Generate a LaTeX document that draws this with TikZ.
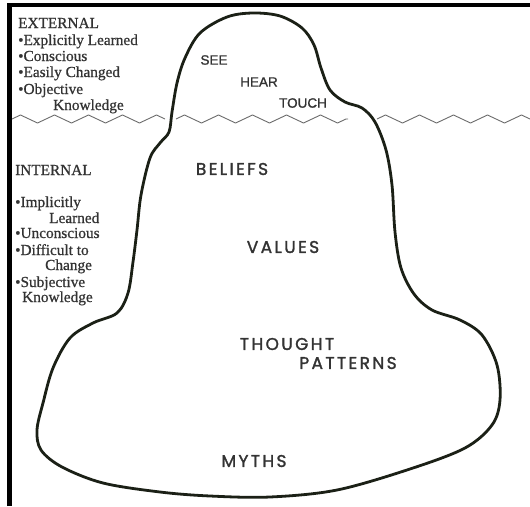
\documentclass[tikz,border=0pt]{standalone}
\usepackage{fontspec}
\setmainfont{Liberation Serif}[FakeBold=0.8]
\newfontfamily\labfont{Poppins}[LetterSpace=14,FakeBold=1.6]
\newfontfamily\smallsans{Liberation Sans}[FakeBold=1.2]
\usetikzlibrary{decorations.pathmorphing}
\definecolor{ink}{HTML}{1B2016}
\definecolor{txt}{HTML}{333333}
\definecolor{wave}{HTML}{6A6A6A}
\tikzset{
  serifline/.style={anchor=base west, inner sep=0pt, text=txt, font=\fontsize{15.3}{16}\selectfont},
  toplab/.style={inner sep=0pt, text=txt, font=\smallsans\fontsize{13.5}{15}\selectfont},
  deeplab/.style={inner sep=0pt, text=txt, font=\labfont\fontsize{17}{19}\selectfont},
  waterline/.style={draw=wave, line width=0.9pt, decorate, decoration={zigzag, segment length=34pt, amplitude=4pt}},
  outline/.style={draw=ink, line width=2.8pt, line join=round},
  frame/.style={draw=black, line width=4.5pt, line join=miter}
}
\begin{document}
\begin{tikzpicture}[x=1pt,y=-1pt]
\useasboundingbox (0,0) rectangle (530,506);
% frame
\draw[frame] (9.5,506) -- (9.5,5) -- (530,5);
% water line
\draw[waterline] (12,119) -- (165,119);
\draw[waterline] (176,119) -- (348,119);
\draw[waterline] (377,119) -- (530,119);
% iceberg
\draw[outline] plot[smooth cycle, tension=0.55] coordinates {
 (253,13) (280,16) (302,28) (314,45) (321,68) (330,90) (345,102) (362,108)
 (375,122) (386,150) (392,185) (395,232) (401,268) (414,294) (432,310)
 (460,320) (482,335) (497,365) (500,400) (492,425) (465,448) (410,469)
 (337,490) (270,497) (210,496) (160,492) (103,483) (62,467) (41,450)
 (37,430) (43,403) (53,368) (70,338) (93,323) (117,313) (128,293)
 (133,262) (137,230) (141,195) (150,158) (160,143) (169,132) (172,112)
 (177,83) (185,58) (200,33) (227,17)};
% external list
\node[serifline] (ext)  at (18,28)  {EXTERNAL};
\node[serifline] (ext1) at (18,45)  {\textbullet Explicitly Learned};
\node[serifline] (ext2) at (18,61)  {\textbullet Conscious};
\node[serifline] (ext3) at (18,77)  {\textbullet Easily Changed};
\node[serifline] (ext4) at (18,94)  {\textbullet Objective};
\node[serifline] (ext5) at (53,110) {Knowledge};
% internal list
\node[serifline] (int)  at (15,175) {INTERNAL};
\node[serifline] (int1) at (15,207) {\textbullet Implicitly};
\node[serifline] (int2) at (49,223) {Learned};
\node[serifline] (int3) at (15,238) {\textbullet Unconscious};
\node[serifline] (int4) at (15,255) {\textbullet Difficult to};
\node[serifline] (int5) at (45,270) {Change};
\node[serifline] (int6) at (15,287) {\textbullet Subjective};
\node[serifline] (int7) at (22,302) {Knowledge};
% labels
\node[toplab] (see)   at (214,60)  {SEE};
\node[toplab] (hear)  at (259,82)  {HEAR};
\node[toplab] (touch) at (303,103) {TOUCH};
\node[deeplab] (bel)  at (232,169) {BELIEFS};
\node[deeplab] (val)  at (283,247) {VALUES};
\node[deeplab] (tho)  at (287,344) {THOUGHT};
\node[deeplab] (pat)  at (348,363) {PATTERNS};
\node[deeplab] (myth) at (254,461) {MYTHS};
\end{tikzpicture}
\end{document}
